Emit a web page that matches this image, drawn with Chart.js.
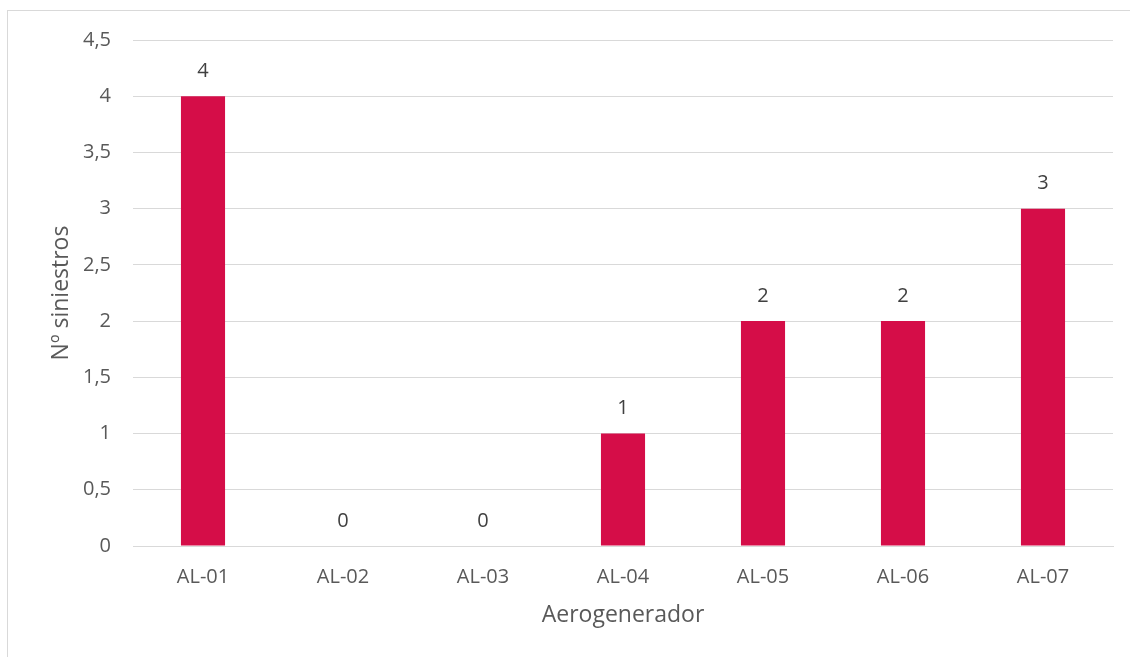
<!DOCTYPE html>
<html lang="es">
<head>
    <meta charset="UTF-8">
    <title>Siniestros por aerogenerador</title>
    <style>
        html, body { margin: 0; padding: 0; background: #fff; }
        #wrap { position: relative; width: 1130px; height: 657px; overflow: hidden; }
        #marco { position: absolute; left: 7px; top: 10px; width: 1200px; height: 700px; border: 1px solid #d9d9d9; box-sizing: border-box; }
        canvas { position: absolute; left: 0; top: 0; }
    </style>
    <script src="https://cdn.jsdelivr.net/npm/chart.js"></script>
</head>
<body>
<div id="wrap">
    <div id="marco"></div>
    <canvas id="grafico" width="1130" height="657"></canvas>
</div>
<script>
    const aerogeneradores = ['AL-01', 'AL-02', 'AL-03', 'AL-04', 'AL-05', 'AL-06', 'AL-07'];
    const siniestros = [4, 0, 0, 1, 2, 2, 3];

    const fuente = '"Open Sans", sans-serif';
    const gris = '#595959';

    // etiquetas de valor encima de cada barra
    const etiquetas = {
        id: 'etiquetas',
        afterDatasetsDraw(chart) {
            const ctx = chart.ctx;
            const meta = chart.getDatasetMeta(0);
            ctx.save();
            ctx.font = '20px ' + fuente;
            ctx.fillStyle = '#404040';
            ctx.textAlign = 'center';
            ctx.textBaseline = 'bottom';
            meta.data.forEach((bar, i) => {
                ctx.fillText(String(siniestros[i]), bar.x, bar.y - 15);
            });
            ctx.restore();
        }
    };

    new Chart(document.getElementById('grafico'), {
        type: 'bar',
        data: {
            labels: aerogeneradores,
            datasets: [{
                data: siniestros,
                backgroundColor: '#D50D48',
                categoryPercentage: 1,
                barPercentage: 0.315
            }]
        },
        options: {
            responsive: false,
            animation: false,
            layout: { padding: { left: 44, right: 17, top: 40, bottom: 24 } },
            plugins: {
                legend: { display: false },
                tooltip: { enabled: false }
            },
            scales: {
                x: {
                    grid: { display: false, drawTicks: false },
                    border: { color: '#d9d9d9' },
                    ticks: { color: gris, padding: 19, font: { family: fuente, size: 20 } },
                    title: { display: true, text: 'Aerogenerador', color: gris, font: { family: fuente, size: 23 } },
                    afterFit(s) { s.height = 87; }
                },
                y: {
                    min: 0,
                    max: 4.5,
                    grid: { color: '#d9d9d9', drawTicks: false },
                    border: { display: false },
                    ticks: {
                        stepSize: 0.5,
                        color: gris,
                        padding: 22,
                        font: { family: fuente, size: 20 },
                        callback: v => String(v).replace('.', ',')
                    },
                    title: { display: true, text: 'Nº siniestros', color: gris, font: { family: fuente, size: 23 } },
                    afterFit(s) { s.width = 89; }
                }
            }
        },
        plugins: [etiquetas]
    });
</script>
</body>
</html>
